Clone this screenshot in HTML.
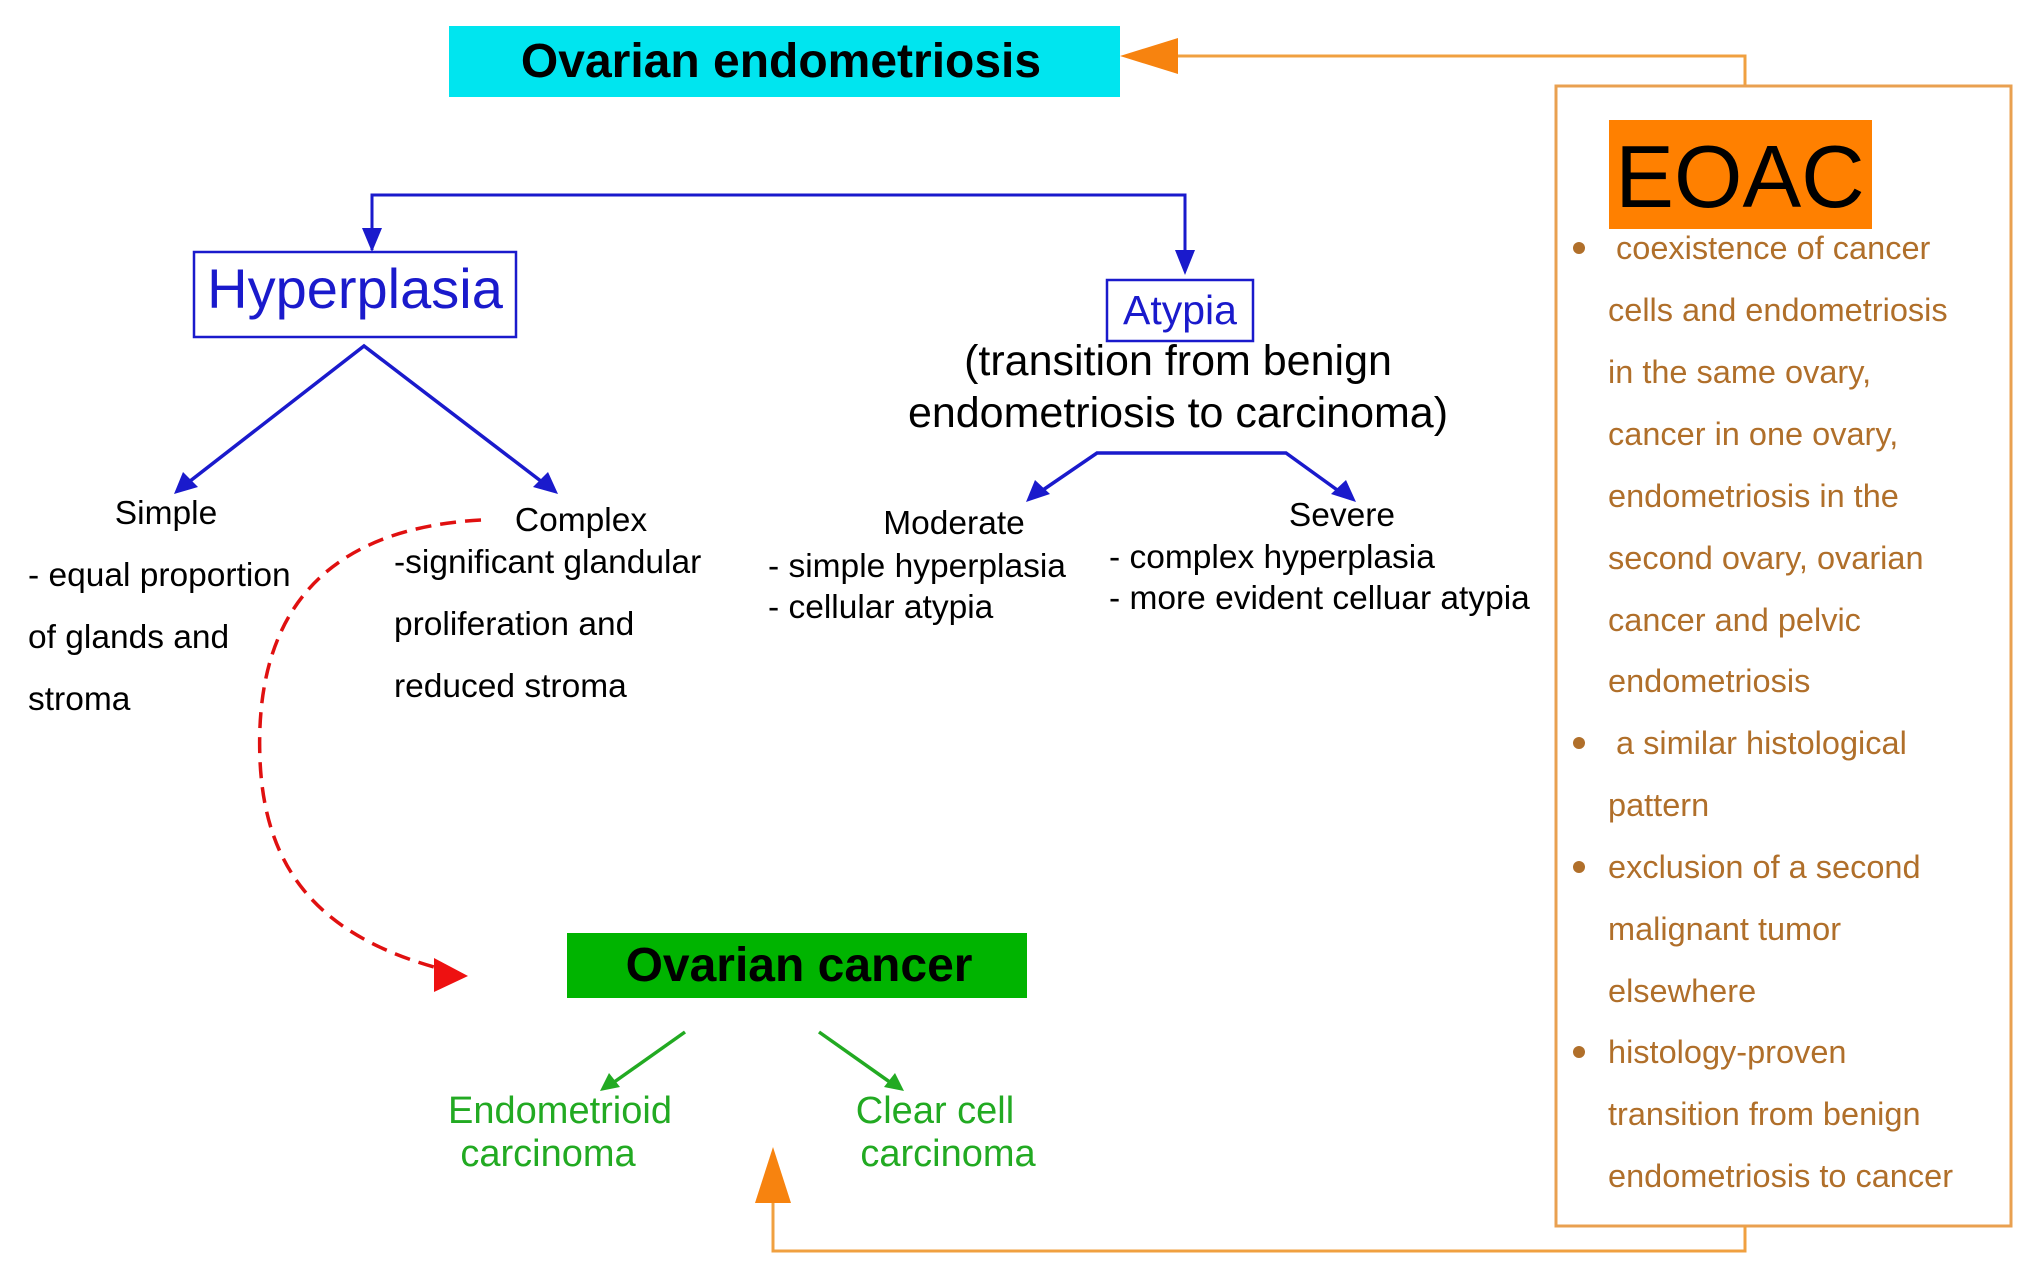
<!DOCTYPE html>
<html><head><meta charset="utf-8"><style>
html,body{margin:0;padding:0;background:#fff;}
svg{display:block;}
text{font-family:"Liberation Sans",Arial,sans-serif;}
</style></head><body>
<svg width="2031" height="1281" viewBox="0 0 2031 1281" xmlns="http://www.w3.org/2000/svg">
<rect width="2031" height="1281" fill="#fff"/>
<rect x="449" y="26" width="671" height="71" fill="#00e5ef"/>
<text x="781" y="77" font-size="48" font-weight="bold" text-anchor="middle" fill="#000">Ovarian endometriosis</text>
<polyline points="1745,86 1745,56 1170,56" fill="none" stroke="#f0a040" stroke-width="3"/>
<polygon points="1120,56 1178,38 1178,74" fill="#f7830f"/>
<rect x="1556" y="86" width="455" height="1140" fill="none" stroke="#e9a050" stroke-width="3"/>
<rect x="1609" y="120" width="263" height="109" fill="#ff8000"/>
<text x="1740" y="207" font-size="88" text-anchor="middle" fill="#000">EOAC</text>
<g font-size="32.5" fill="#b06f2a">
<circle cx="1579" cy="248" r="6" fill="#b06f2a"/>
<text x="1616" y="259">coexistence of cancer</text>
<text x="1608" y="321">cells and endometriosis</text>
<text x="1608" y="383">in the  same ovary,</text>
<text x="1608" y="445">cancer in one ovary,</text>
<text x="1608" y="507">endometriosis in the</text>
<text x="1608" y="569">second ovary, ovarian</text>
<text x="1608" y="631">cancer and pelvic</text>
<text x="1608" y="692">endometriosis</text>
<circle cx="1579" cy="743" r="6" fill="#b06f2a"/>
<text x="1616" y="754">a similar histological</text>
<text x="1608" y="816">pattern</text>
<circle cx="1579" cy="867" r="6" fill="#b06f2a"/>
<text x="1608" y="878">exclusion of a second</text>
<text x="1608" y="940">malignant tumor</text>
<text x="1608" y="1002">elsewhere</text>
<circle cx="1579" cy="1052" r="6" fill="#b06f2a"/>
<text x="1608" y="1063">histology-proven</text>
<text x="1608" y="1125">transition from benign</text>
<text x="1608" y="1187">endometriosis  to cancer</text>
</g>
<polyline points="1745,1226 1745,1251 773,1251 773,1200" fill="none" stroke="#f0a040" stroke-width="3"/>
<polygon points="773,1147 755,1203 791,1203" fill="#f7830f"/>
<polyline points="372,250 372,195 1185,195 1185,270" fill="none" stroke="#1a1acc" stroke-width="3"/>
<polygon points="372,252 362,228 382,228" fill="#1a1acc"/>
<polygon points="1185,275 1175,250 1195,250" fill="#1a1acc"/>
<rect x="194" y="252" width="322" height="85" fill="#fff" stroke="#1a1acc" stroke-width="2.5"/>
<text x="355" y="308" font-size="56" text-anchor="middle" fill="#1a1acc">Hyperplasia</text>
<rect x="1107" y="280" width="146" height="61" fill="#fff" stroke="#1a1acc" stroke-width="2.5"/>
<text x="1180" y="324" font-size="41" text-anchor="middle" fill="#1a1acc">Atypia</text>
<text x="1178" y="375" font-size="43" text-anchor="middle" fill="#000">(transition from benign</text>
<text x="1178" y="427" font-size="43" text-anchor="middle" fill="#000">endometriosis to carcinoma)</text>
<g stroke="#1a1acc" stroke-width="3.5" fill="none">
<polyline points="185,485 364,346 546,485"/>
<polyline points="1040,492 1097,453 1286,453 1340,492"/>
</g>
<polygon points="174,494 183,472 198,487" fill="#1a1acc"/>
<polygon points="558,494 533,487 548,472" fill="#1a1acc"/>
<polygon points="1026,502 1035,480 1050,494" fill="#1a1acc"/>
<polygon points="1356,502 1331,494 1346,480" fill="#1a1acc"/>
<g font-size="33.5" fill="#000">
<text x="166" y="524" text-anchor="middle">Simple</text>
<text x="28" y="586">- equal proportion</text>
<text x="28" y="648">of glands and</text>
<text x="28" y="710">stroma</text>
<text x="581" y="531" text-anchor="middle">Complex</text>
<text x="394" y="573">-significant glandular</text>
<text x="394" y="635">proliferation and</text>
<text x="394" y="697">reduced stroma</text>
<text x="954" y="534" text-anchor="middle">Moderate</text>
<text x="768" y="577">- simple hyperplasia</text>
<text x="768" y="618">- cellular atypia</text>
<text x="1342" y="526" text-anchor="middle">Severe</text>
<text x="1109" y="568">- complex hyperplasia</text>
<text x="1109" y="609">- more evident celluar atypia</text>
</g>
<path d="M481,520 C300,530 255,640 260,760 C265,880 330,940 445,970" fill="none" stroke="#e01010" stroke-width="3.5" stroke-dasharray="16,9"/>
<polygon points="468,976 434,958 434,992" fill="#ee1111"/>
<rect x="567" y="933" width="460" height="65" fill="#00b400"/>
<text x="799" y="981" font-size="48" font-weight="bold" text-anchor="middle" fill="#000">Ovarian cancer</text>
<g stroke="#22aa22" stroke-width="3.5">
<line x1="685" y1="1032" x2="610" y2="1085"/>
<line x1="819" y1="1032" x2="894" y2="1085"/>
</g>
<polygon points="600,1091 609,1073 620,1087" fill="#22aa22"/>
<polygon points="904,1091 884,1087 895,1073" fill="#22aa22"/>
<g font-size="38" fill="#22aa22">
<text x="560" y="1123" text-anchor="middle">Endometrioid</text>
<text x="548" y="1166" text-anchor="middle">carcinoma</text>
<text x="935" y="1123" text-anchor="middle">Clear cell</text>
<text x="948" y="1166" text-anchor="middle">carcinoma</text>
</g>
</svg>
</body></html>
